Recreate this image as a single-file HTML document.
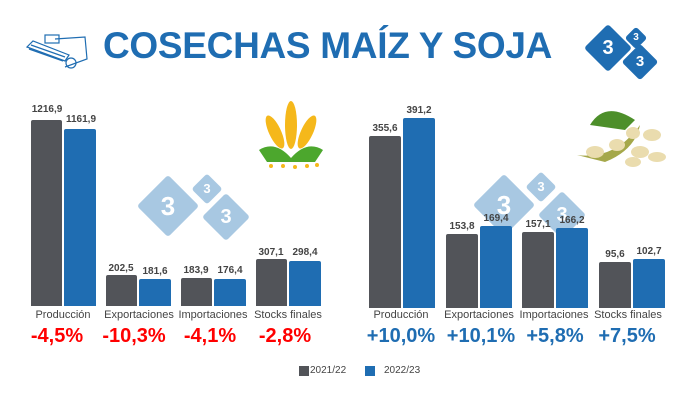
<!DOCTYPE html>
<html><head><meta charset="utf-8"><style>
body{margin:0;width:700px;height:400px;background:#fff;position:relative;overflow:hidden;font-family:"Liberation Sans",sans-serif}
div{position:absolute}
.g{background:#525459;border-radius:2px 2px 0 0}
.b{background:#1f6db2;border-radius:2px 2px 0 0}
.v{font-size:10px;font-weight:bold;color:#444;width:50px;text-align:center}
.l{font-size:11px;color:#444;width:90px;text-align:center}
.p{font-size:20px;font-weight:bold;width:90px;text-align:center}
.r{color:#f00}.u{color:#1f6db2}
.d{transform:rotate(45deg);border-radius:3px}
.n{color:#fff;font-weight:bold;text-align:center;transform:rotate(-45deg)}
</style></head><body>
<div style="left:103px;top:25px;font-size:37px;font-weight:bold;color:#1f6db2;letter-spacing:-0.3px">COSECHAS MAÍZ Y SOJA</div>
<svg style="position:absolute;left:25px;top:33px" width="68" height="40"><g fill="none" stroke="#1f6db2" stroke-width="1.2"><path d="M2 14 L40 28 L44 22 L8 8 Z"/><path d="M30 6 L60 4 L62 26 L40 34"/><rect x="20" y="2" width="14" height="8"/><circle cx="46" cy="30" r="5"/><path d="M6 12 l34 12 M4 16 l34 12"/></g></svg>
<div class="d" style="left:591px;top:31px;width:34px;height:34px;background:#1f6db2"><div class="n" style="width:34px;line-height:34px;font-size:20px">3</div></div>
<div class="d" style="left:628px;top:30px;width:16px;height:16px;background:#1f6db2"><div class="n" style="width:16px;line-height:16px;font-size:10px">3</div></div>
<div class="d" style="left:627px;top:49px;width:26px;height:26px;background:#1f6db2"><div class="n" style="width:26px;line-height:26px;font-size:15px">3</div></div>
<!-- watermark left -->
<div class="d" style="left:146px;top:184px;width:44px;height:44px;background:#a8c8e2"><div class="n" style="width:44px;line-height:44px;font-size:26px">3</div></div>
<div class="d" style="left:196px;top:178px;width:22px;height:22px;background:#a8c8e2"><div class="n" style="width:22px;line-height:22px;font-size:13px">3</div></div>
<div class="d" style="left:209px;top:200px;width:34px;height:34px;background:#a8c8e2"><div class="n" style="width:34px;line-height:34px;font-size:20px">3</div></div>
<!-- watermark right -->
<div class="d" style="left:482px;top:183px;width:44px;height:44px;background:#a8c8e2"><div class="n" style="width:44px;line-height:44px;font-size:26px">3</div></div>
<div class="d" style="left:530px;top:176px;width:22px;height:22px;background:#a8c8e2"><div class="n" style="width:22px;line-height:22px;font-size:13px">3</div></div>
<div class="d" style="left:545px;top:198px;width:34px;height:34px;background:#a8c8e2"><div class="n" style="width:34px;line-height:34px;font-size:20px">3</div></div>
<!-- corn -->
<svg style="position:absolute;left:255px;top:100px" width="72" height="70"><g fill="#f5b81b"><ellipse cx="36" cy="25" rx="6" ry="24"/><ellipse cx="20" cy="32" rx="6" ry="18" transform="rotate(-25 20 32)"/><ellipse cx="52" cy="32" rx="6" ry="18" transform="rotate(25 52 32)"/></g><path d="M4 50 Q20 40 36 58 Q52 40 68 50 L60 62 L12 62Z" fill="#4ca72d"/><g fill="#f5b81b"><circle cx="16" cy="66" r="2"/><circle cx="28" cy="66" r="2"/><circle cx="40" cy="67" r="2"/><circle cx="52" cy="66" r="2"/><circle cx="62" cy="65" r="2"/></g></svg>
<!-- soy -->
<svg style="position:absolute;left:575px;top:100px" width="95" height="68"><path d="M15 25 Q30 0 60 20 L50 30Z" fill="#4d8f2a"/><path d="M2 55 Q40 60 65 25 Q60 50 30 62Z" fill="#a5a84a"/><g fill="#eadcae"><ellipse cx="20" cy="52" rx="9" ry="6"/><ellipse cx="42" cy="45" rx="8" ry="6"/><ellipse cx="58" cy="33" rx="7" ry="6"/><ellipse cx="77" cy="35" rx="9" ry="6"/><ellipse cx="65" cy="52" rx="9" ry="6"/><ellipse cx="82" cy="57" rx="9" ry="5"/><ellipse cx="58" cy="62" rx="8" ry="5"/></g></svg>
<!-- left bars -->
<div class="g" style="left:31px;top:120px;width:31px;height:186px"></div>
<div class="b" style="left:64px;top:129px;width:32px;height:177px"></div>
<div class="g" style="left:106px;top:275px;width:31px;height:31px"></div>
<div class="b" style="left:139px;top:279px;width:32px;height:27px"></div>
<div class="g" style="left:181px;top:278px;width:31px;height:28px"></div>
<div class="b" style="left:214px;top:279px;width:32px;height:27px"></div>
<div class="g" style="left:256px;top:259px;width:31px;height:47px"></div>
<div class="b" style="left:289px;top:261px;width:32px;height:45px"></div>
<div class="v" style="left:22px;top:104px">1216,9</div><div class="v" style="left:56px;top:114px">1161,9</div>
<div class="v" style="left:96px;top:263px">202,5</div><div class="v" style="left:130px;top:266px">181,6</div>
<div class="v" style="left:171px;top:265px">183,9</div><div class="v" style="left:205px;top:265px">176,4</div>
<div class="v" style="left:246px;top:247px">307,1</div><div class="v" style="left:280px;top:247px">298,4</div>
<div class="l" style="left:18px;top:309px">Producción</div><div class="l" style="left:94px;top:309px">Exportaciones</div><div class="l" style="left:168px;top:309px">Importaciones</div><div class="l" style="left:243px;top:309px">Stocks finales</div>
<div class="p r" style="left:12px;top:325px">-4,5%</div><div class="p r" style="left:89px;top:325px">-10,3%</div><div class="p r" style="left:165px;top:325px">-4,1%</div><div class="p r" style="left:240px;top:325px">-2,8%</div>
<!-- right bars -->
<div class="g" style="left:369px;top:136px;width:32px;height:172px"></div>
<div class="b" style="left:403px;top:118px;width:32px;height:190px"></div>
<div class="g" style="left:446px;top:234px;width:32px;height:74px"></div>
<div class="b" style="left:480px;top:226px;width:32px;height:82px"></div>
<div class="g" style="left:522px;top:232px;width:32px;height:76px"></div>
<div class="b" style="left:556px;top:228px;width:32px;height:80px"></div>
<div class="g" style="left:599px;top:262px;width:32px;height:46px"></div>
<div class="b" style="left:633px;top:259px;width:32px;height:49px"></div>
<div class="v" style="left:360px;top:123px">355,6</div><div class="v" style="left:394px;top:105px">391,2</div>
<div class="v" style="left:437px;top:221px">153,8</div><div class="v" style="left:471px;top:213px">169,4</div>
<div class="v" style="left:513px;top:219px">157,1</div><div class="v" style="left:547px;top:215px">166,2</div>
<div class="v" style="left:590px;top:249px">95,6</div><div class="v" style="left:624px;top:246px">102,7</div>
<div class="l" style="left:356px;top:309px">Producción</div><div class="l" style="left:434px;top:309px">Exportaciones</div><div class="l" style="left:509px;top:309px">Importaciones</div><div class="l" style="left:583px;top:309px">Stocks finales</div>
<div class="p u" style="left:356px;top:325px">+10,0%</div><div class="p u" style="left:436px;top:325px">+10,1%</div><div class="p u" style="left:510px;top:325px">+5,8%</div><div class="p u" style="left:582px;top:325px">+7,5%</div>
<!-- legend -->
<div style="left:299px;top:366px;width:10px;height:10px;background:#525459"></div>
<div style="left:310px;top:365px;font-size:10px;color:#444">2021/22</div>
<div style="left:365px;top:366px;width:10px;height:10px;background:#1f6db2"></div>
<div style="left:384px;top:365px;font-size:10px;color:#444">2022/23</div>
</body></html>
